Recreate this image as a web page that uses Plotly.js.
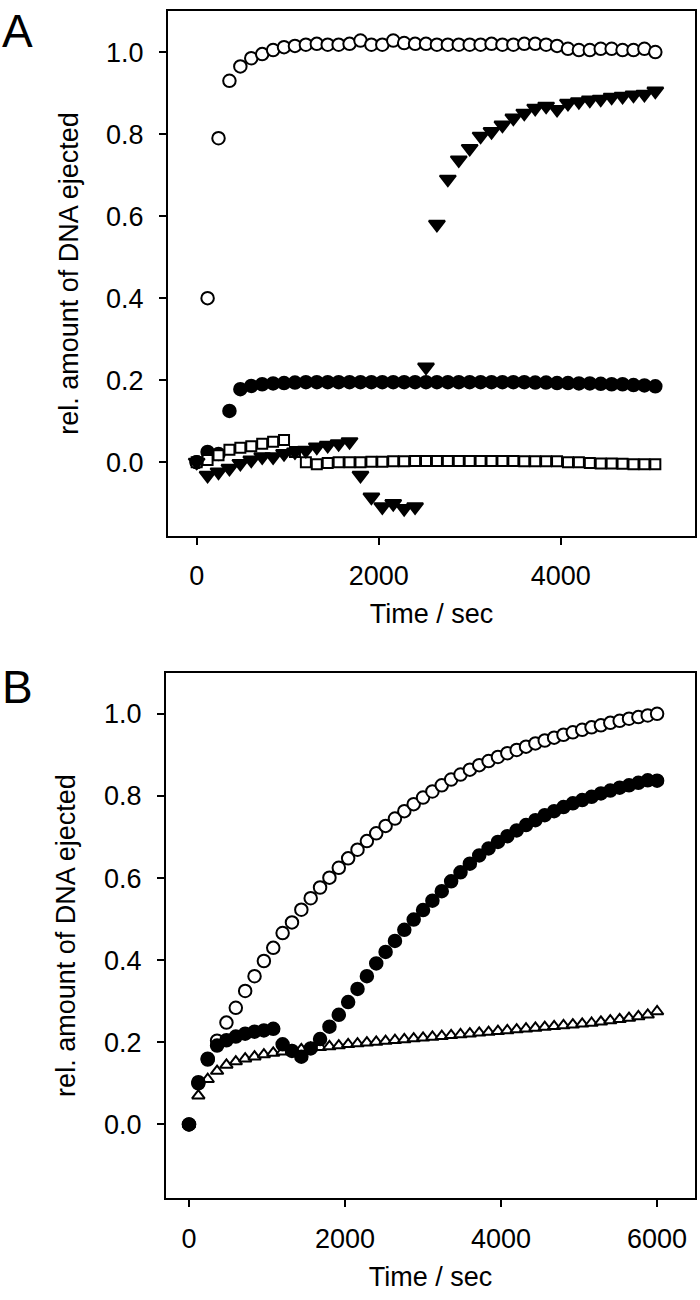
<!DOCTYPE html>
<html>
<head>
<meta charset="utf-8">
<script src="https://cdn.plot.ly/plotly-3.0.1.min.js"></script>
<style>
  body { margin: 0; background: #fff; }
  #chart { width: 700px; height: 1300px; }
</style>
</head>
<body>
<div id="chart"></div>
<script>
// Panel A: time points (sec), 120 s apart
const tA = [0, 120, 240, 360, 480, 600, 720, 840, 960, 1080, 1200, 1320, 1440, 1560, 1680,
  1800, 1920, 2040, 2160, 2280, 2400, 2520, 2640, 2760, 2880, 3000, 3120, 3240, 3360, 3480,
  3600, 3720, 3840, 3960, 4080, 4200, 4320, 4440, 4560, 4680, 4800, 4920, 5040];

const aOpenCircle = [0.0, 0.40, 0.79, 0.93, 0.965, 0.985, 0.995, 1.005, 1.012, 1.015, 1.018, 1.02, 1.018, 1.018, 1.02,
  1.028, 1.018, 1.018, 1.028, 1.022, 1.02, 1.02, 1.018, 1.018, 1.018, 1.018, 1.018, 1.02, 1.018, 1.018,
  1.02, 1.02, 1.018, 1.015, 1.008, 1.005, 1.005, 1.008, 1.008, 1.005, 1.005, 1.008, 1.0];

const aFilledCircle = [0.0, 0.025, 0.02, 0.125, 0.178, 0.186, 0.19, 0.192, 0.193, 0.194, 0.195, 0.195, 0.195, 0.195, 0.195,
  0.195, 0.195, 0.195, 0.195, 0.195, 0.195, 0.195, 0.195, 0.195, 0.195, 0.195, 0.195, 0.195, 0.195, 0.195,
  0.195, 0.194, 0.194, 0.193, 0.193, 0.192, 0.192, 0.191, 0.19, 0.19, 0.188, 0.187, 0.185];

const aOpenSquare = [0.0, 0.005, 0.017, 0.03, 0.035, 0.039, 0.045, 0.05, 0.054, 0.025, 0.0, -0.005, -0.002, 0.0, 0.0,
  0.0, 0.001, 0.001, 0.002, 0.002, 0.003, 0.003, 0.003, 0.003, 0.003, 0.003, 0.003, 0.003, 0.003, 0.003,
  0.002, 0.002, 0.002, 0.002, 0.0, 0.0, -0.002, -0.003, -0.003, -0.004, -0.005, -0.005, -0.005];

const aFilledTriangle = [0.0, -0.032, -0.024, -0.015, -0.003, 0.005, 0.013, 0.013, 0.021, 0.025, 0.029, 0.037, 0.041, 0.045, 0.05,
  -0.032, -0.085, -0.109, -0.101, -0.113, -0.109, 0.232, 0.58, 0.69, 0.737, 0.765, 0.795, 0.806, 0.822, 0.839,
  0.851, 0.863, 0.868, 0.86, 0.875, 0.879, 0.883, 0.885, 0.89, 0.892, 0.895, 0.897, 0.905];

// Panel B: time points (sec), 120 s apart
const tB = [0, 120, 240, 360, 480, 600, 720, 840, 960, 1080, 1200, 1320, 1440, 1560, 1680,
  1800, 1920, 2040, 2160, 2280, 2400, 2520, 2640, 2760, 2880, 3000, 3120, 3240, 3360, 3480,
  3600, 3720, 3840, 3960, 4080, 4200, 4320, 4440, 4560, 4680, 4800, 4920, 5040, 5160, 5280,
  5400, 5520, 5640, 5760, 5880, 6000];

const bOpenCircle = [0.0, 0.10, 0.16, 0.204, 0.248, 0.284, 0.325, 0.361, 0.398, 0.43, 0.466, 0.492, 0.523, 0.551, 0.577,
  0.601, 0.625, 0.648, 0.669, 0.690, 0.709, 0.727, 0.745, 0.763, 0.780, 0.796, 0.811, 0.826, 0.840, 0.852,
  0.864, 0.875, 0.885, 0.895, 0.904, 0.912, 0.920, 0.928, 0.935, 0.942, 0.949, 0.955, 0.961, 0.967, 0.972,
  0.978, 0.983, 0.988, 0.992, 0.996, 1.0];

const bFilledCircle = [0.0, 0.103, 0.158, 0.192, 0.205, 0.214, 0.221, 0.226, 0.229, 0.233, 0.195, 0.179, 0.165, 0.185, 0.208,
  0.238, 0.267, 0.298, 0.330, 0.361, 0.392, 0.420, 0.447, 0.474, 0.499, 0.522, 0.545, 0.568, 0.592, 0.614,
  0.635, 0.655, 0.672, 0.688, 0.702, 0.716, 0.729, 0.741, 0.753, 0.763, 0.773, 0.782, 0.790, 0.798, 0.806,
  0.813, 0.820, 0.826, 0.832, 0.838, 0.837];

const bOpenTriangle = [0.0, 0.07, 0.11, 0.13, 0.145, 0.153, 0.16, 0.165, 0.17, 0.174, 0.177, 0.18, 0.183, 0.186, 0.188,
  0.19, 0.192, 0.195, 0.197, 0.199, 0.201, 0.203, 0.205, 0.207, 0.209, 0.211, 0.213, 0.215, 0.217, 0.219,
  0.221, 0.223, 0.225, 0.227, 0.229, 0.231, 0.233, 0.235, 0.237, 0.239, 0.241, 0.243, 0.245, 0.247, 0.25,
  0.253, 0.256, 0.259, 0.263, 0.267, 0.275];

const yTicks = [0, 0.2, 0.4, 0.6, 0.8, 1.0];
const xTicksA = [0, 2000, 4000];
const xTicksB = [0, 2000, 4000, 6000];

const FONT = 'Liberation Sans, Arial, sans-serif';

function pts(x, y, xa, ya, symbol, fill, size) {
  return {
    x, y, xaxis: xa, yaxis: ya, type: 'scatter', mode: 'markers', showlegend: false,
    marker: { symbol, size, color: fill, line: { color: '#000', width: 2 } }
  };
}

const traces = [
  pts(tA, aOpenCircle, 'x', 'y', 'circle', '#fff', 12.5),
  pts(tA, aFilledCircle, 'x', 'y', 'circle', '#000', 12.5),
  pts(tA, aOpenSquare, 'x', 'y', 'square', '#fff', 10),
  pts(tA, aFilledTriangle, 'x', 'y', 'triangle-down', '#000', 14),
  pts(tB, bOpenTriangle, 'x2', 'y2', 'triangle-up', '#fff', 11),
  pts(tB, bOpenCircle, 'x2', 'y2', 'circle', '#fff', 12.5),
  pts(tB, bFilledCircle, 'x2', 'y2', 'circle', '#000', 12.5)
];

function xAxis(range, ticks, domain, anchor) {
  return {
    domain, range, anchor, tickmode: 'array', tickvals: ticks,
    ticks: 'outside', ticklen: 7, tickwidth: 2, tickcolor: '#000', ticklabelstandoff: 8,
    showline: true, mirror: true, linecolor: '#000', linewidth: 2,
    showgrid: false, zeroline: false,
    tickfont: { family: FONT, size: 27, color: '#000' },
    title: { text: 'Time / sec', standoff: 14, font: { family: FONT, size: 27, color: '#000' } }
  };
}

function yAxis(domain, anchor) {
  return {
    domain, range: [-0.18, 1.1], anchor, tickmode: 'array', tickvals: yTicks, tickformat: '.1f',
    ticks: 'outside', ticklen: 7, tickwidth: 2, tickcolor: '#000', ticklabelstandoff: 10,
    showline: true, mirror: true, linecolor: '#000', linewidth: 2,
    showgrid: false, zeroline: false,
    tickfont: { family: FONT, size: 27, color: '#000' },
    title: { text: 'rel. amount of DNA ejected', standoff: 20, font: { family: FONT, size: 27, color: '#000' } }
  };
}

const layout = {
  width: 700, height: 1300,
  margin: { l: 0, r: 0, t: 0, b: 0 },
  paper_bgcolor: '#fff', plot_bgcolor: '#fff',
  xaxis: xAxis([-315, 5477], xTicksA, [0.24, 0.993], 'y'),
  yaxis: yAxis([0.5877, 0.9915], 'x'),
  xaxis2: xAxis([-296, 6487], xTicksB, [0.237, 0.993], 'y2'),
  yaxis2: yAxis([0.0782, 0.4825], 'x2'),
  annotations: [
    { text: 'A', x: 0.0, y: 0.998, xref: 'paper', yref: 'paper', xanchor: 'left', yanchor: 'top',
      showarrow: false, font: { family: FONT, size: 46, color: '#000' } },
    { text: 'B', x: 0.0, y: 0.493, xref: 'paper', yref: 'paper', xanchor: 'left', yanchor: 'top',
      showarrow: false, font: { family: FONT, size: 46, color: '#000' } }
  ]
};

Plotly.newPlot('chart', traces, layout, { displayModeBar: false, staticPlot: true });
</script>
</body>
</html>
